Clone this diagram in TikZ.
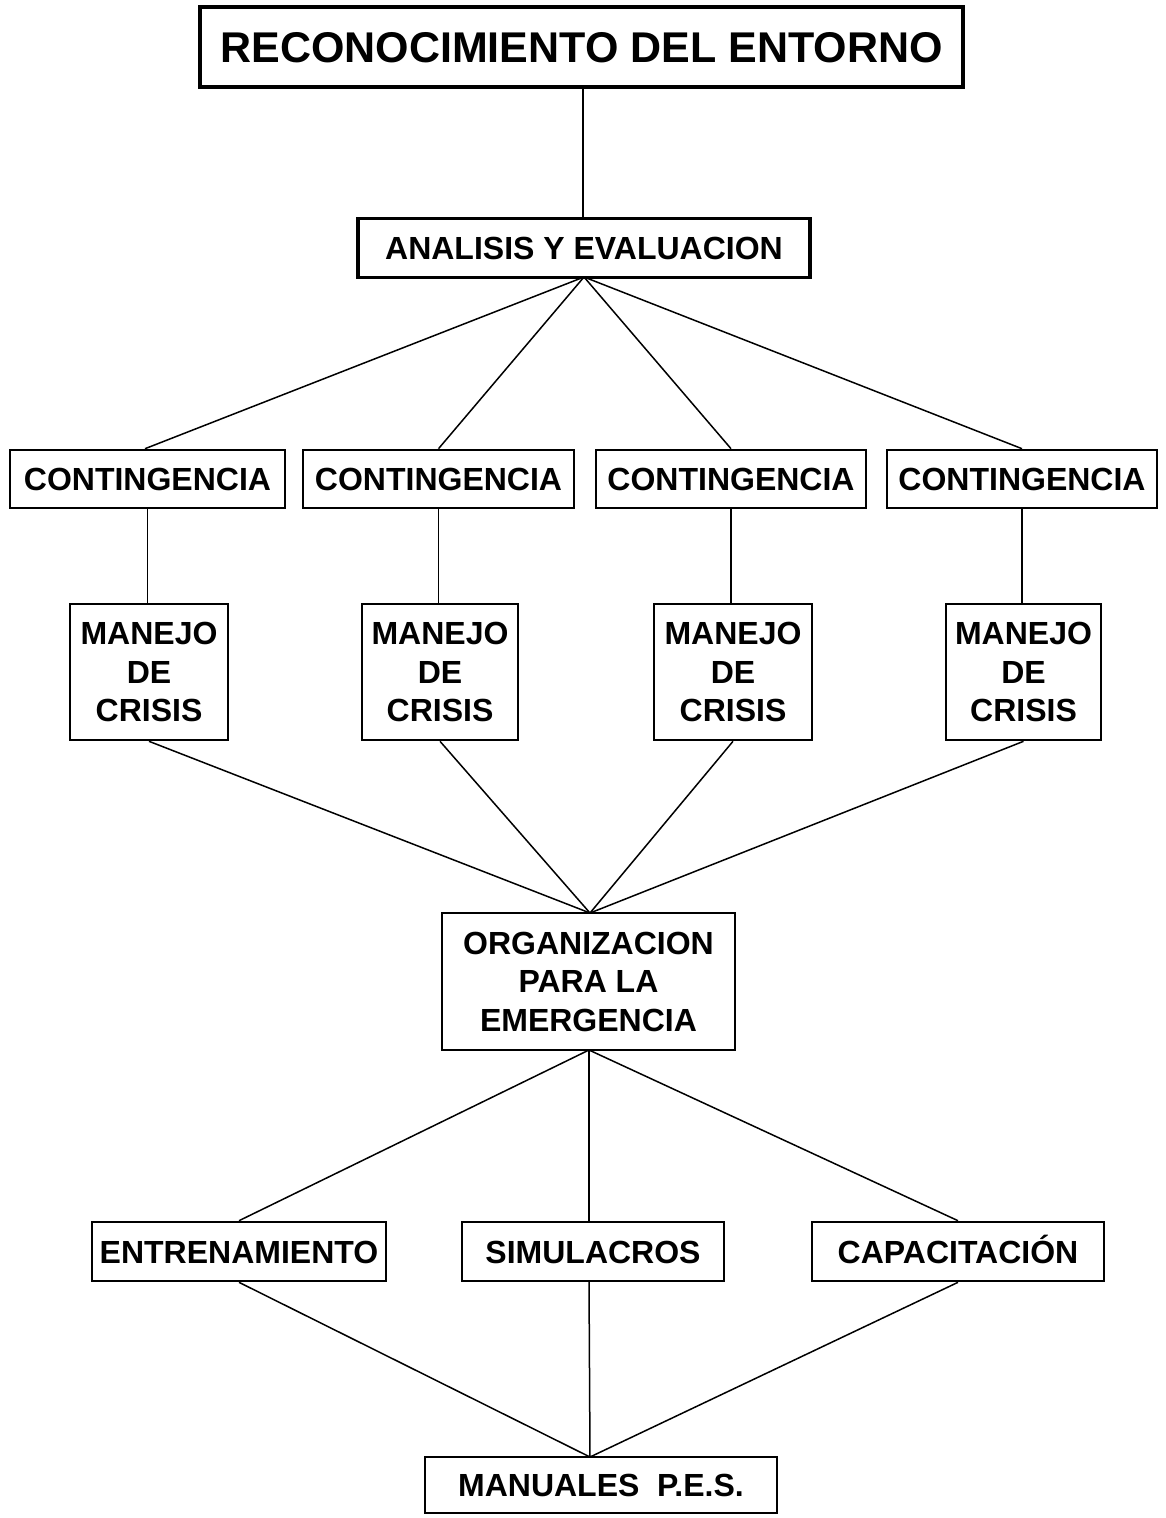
\documentclass[tikz,border=0pt]{standalone}
\usepackage{fontspec}
\setmainfont{Liberation Sans}
\begin{document}
\begin{tikzpicture}[x=1pt,y=-1pt,
  box/.style={draw, line width=2.6pt, inner sep=0pt, align=center,
    font=\bfseries\fontsize{32}{38.5}\selectfont},
  oneline/.style={text height=23pt, text depth=0pt},
  conn/.style={line width=1.5pt}]
\useasboundingbox (0,0) rectangle (1165,1518);
\fill[white] (0,0) rectangle (1165,1518);
% nodes
\node[box, line width=4.4pt, minimum width=763pt, minimum height=80pt,
  text height=31pt, text depth=0pt,
  font=\bfseries\fontsize{43}{50}\selectfont] (top) at (581.5,47) {RECONOCIMIENTO DEL ENTORNO};
\node[box, oneline, line width=3.6pt, minimum width=452pt, minimum height=59pt] (ana) at (584,248) {ANALISIS Y EVALUACION};
\node[box, oneline, minimum width=275pt, minimum height=58pt] (c1) at (147.5,479) {CONTINGENCIA};
\node[box, oneline, minimum width=271pt, minimum height=58pt] (c2) at (438.5,479) {CONTINGENCIA};
\node[box, oneline, minimum width=270pt, minimum height=58pt] (c3) at (731,479) {CONTINGENCIA};
\node[box, oneline, minimum width=270pt, minimum height=58pt] (c4) at (1022,479) {CONTINGENCIA};
\node[box, minimum width=158pt, minimum height=136pt] (m1) at (149,672) {MANEJO\\DE\\CRISIS};
\node[box, minimum width=156pt, minimum height=136pt] (m2) at (440,672) {MANEJO\\DE\\CRISIS};
\node[box, minimum width=158pt, minimum height=136pt] (m3) at (733,672) {MANEJO\\DE\\CRISIS};
\node[box, minimum width=155pt, minimum height=136pt] (m4) at (1023.5,672) {MANEJO\\DE\\CRISIS};
\node[box, minimum width=293pt, minimum height=137pt] (org) at (588.5,981.5) {ORGANIZACION\\PARA LA\\EMERGENCIA};
\node[box, oneline, minimum width=294pt, minimum height=59pt] (ent) at (239,1251.5) {ENTRENAMIENTO};
\node[box, oneline, minimum width=262pt, minimum height=59pt] (sim) at (593,1251.5) {SIMULACROS};
\node[box, oneline, minimum width=292pt, minimum height=59pt] (cap) at (958,1251.5) {CAPACITACIÓN};
\node[box, oneline, minimum width=352pt, minimum height=56pt] (man) at (601,1485) {MANUALES\ \ P.E.S.};
% coordinates
\coordinate (topb) at (583,87);
\coordinate (anat) at (583,218);
\coordinate (anab) at (584,277);
\coordinate (orgt) at (590,913);
\coordinate (orgb) at (589,1050);
\coordinate (simt) at (589,1222);
\coordinate (simb) at (589,1281);
\coordinate (mant) at (590,1457);
% connectors
\draw[conn] (topb) -- (anat);
\draw[conn] (anab) -- (c1.north -| 145,0);
\draw[conn] (anab) -- (c2.north);
\draw[conn] (anab) -- (c3.north);
\draw[conn] (anab) -- (c4.north);
\draw[conn] (c1.south) -- (c1.south |- m1.north);
\draw[conn] (c2.south) -- (c2.south |- m2.north);
\draw[conn] (c3.south) -- (c3.south |- m3.north);
\draw[conn] (c4.south) -- (c4.south |- m4.north);
\draw[conn] (m1.south) -- (orgt);
\draw[conn] (m2.south) -- (orgt);
\draw[conn] (m3.south) -- (orgt);
\draw[conn] (m4.south) -- (orgt);
\draw[conn] (orgb) -- (ent.north);
\draw[conn] (orgb) -- (simt);
\draw[conn] (orgb) -- (cap.north);
\draw[conn] (ent.south) -- (mant);
\draw[conn] (simb) -- (mant);
\draw[conn] (cap.south) -- (mant);
\end{tikzpicture}
\end{document}
